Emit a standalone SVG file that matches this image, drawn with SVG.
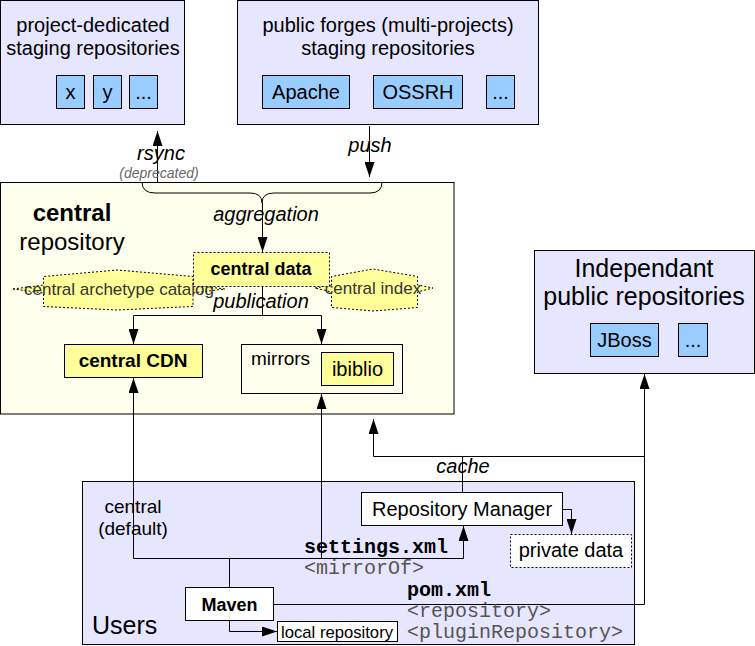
<svg xmlns="http://www.w3.org/2000/svg" width="755" height="646" viewBox="0 0 755 646">
<defs>
<marker id="arr" viewBox="0 0 15 10" refX="15" refY="5" markerWidth="15" markerHeight="10" markerUnits="userSpaceOnUse" orient="auto">
<path d="M0,0 L15,5 L0,10 z" fill="#000"/>
</marker>
<style>
text{font-family:"Liberation Sans",Arial,sans-serif;fill:#000}
.c{text-anchor:middle}
.t20{font-size:20px}
.it{font-style:italic;font-size:20px}
.b{font-weight:bold}
.mono{font-family:"Liberation Mono","Courier New",monospace;font-size:20px}
.monog{font-family:"Liberation Mono","Courier New",monospace;font-size:20px;fill:#555}
.lav{fill:#e6e6ff;stroke:#000;stroke-width:1}
.blue{fill:#99ccff;stroke:#000;stroke-width:1}
.cream{fill:#ffffee;stroke:#000;stroke-width:1}
.yel{fill:#ffff99;stroke:#000;stroke-width:1}
.yeld{fill:#ffff99;stroke:#000;stroke-width:1;stroke-dasharray:2,2}
.wh{fill:#fff;stroke:#000;stroke-width:1}
.whd{fill:#fff;stroke:#000;stroke-width:1;stroke-dasharray:2,2}
.ln{fill:none;stroke:#000;stroke-width:1}
.ar{fill:none;stroke:#000;stroke-width:1;marker-end:url(#arr)}
</style>
</defs>

<g id="project-staging">
<rect class="lav" x="0.5" y="0.5" width="184" height="124"/>
<text class="t20 c" x="93" y="32">project-dedicated</text>
<text class="t20 c" x="93" y="55">staging repositories</text>
<rect class="blue" x="56.5" y="75.5" width="28" height="33"/>
<text class="t20 c" x="70.5" y="99">x</text>
<rect class="blue" x="93.5" y="75.5" width="28" height="33"/>
<text class="t20 c" x="107.5" y="99">y</text>
<rect class="blue" x="129.5" y="75.5" width="28" height="33"/>
<text class="t20 c" x="143.5" y="99">...</text>
</g>

<g id="public-forges">
<rect class="lav" x="237.5" y="0.5" width="301" height="124"/>
<text class="t20 c" x="388" y="32">public forges (multi-projects)</text>
<text class="t20 c" x="388" y="55">staging repositories</text>
<rect class="blue" x="262.5" y="75.5" width="87" height="33"/>
<text class="t20 c" x="306" y="99">Apache</text>
<rect class="blue" x="373.5" y="75.5" width="89" height="33"/>
<text class="t20 c" x="418" y="99">OSSRH</text>
<rect class="blue" x="486.5" y="75.5" width="28" height="33"/>
<text class="t20 c" x="500.5" y="99">...</text>
</g>

<g id="central-repository">
<rect class="cream" x="0.5" y="182.5" width="453.5" height="231.5"/>
<text class="c b" style="font-size:24px" x="72" y="221">central</text>
<text class="c" style="font-size:24px" x="72" y="250">repository</text>
</g>

<g id="archetype-catalog">
<polygon class="yeld" points="13,289 43.5,285 43.5,276.5 117,270 193,276.5 193,285 225,289 193,293 193,306.5 117,310 43.5,306.5 43.5,293"/>
<text class="c" style="font-size:17px;fill:#333" x="119" y="295">central archetype catalog</text>
</g>

<g id="central-index">
<polygon class="yeld" points="315,288 331.5,285 331.5,276.5 373,269 417.5,276.5 417.5,285 433,288 417.5,292 417.5,307.5 373,311 331.5,307.5 331.5,292"/>
<text class="c" style="font-size:17px;fill:#333" x="373" y="294">central index</text>
</g>

<g id="central-data">
<rect class="yeld" x="193.5" y="252.5" width="136" height="34"/>
<text class="c b" style="font-size:18px" x="261" y="275">central data</text>
</g>

<g id="central-cdn">
<rect class="yel" x="64.5" y="344.5" width="138" height="33"/>
<text class="c b" style="font-size:19px" x="133" y="367">central CDN</text>
</g>

<g id="mirrors">
<rect class="cream" x="241.5" y="344.5" width="161" height="49"/>
<text style="font-size:19px" x="251" y="365">mirrors</text>
<rect class="yel" x="321.5" y="352.5" width="72" height="33"/>
<text class="t20 c" x="357.5" y="376">ibiblio</text>
</g>

<g id="independant">
<rect class="lav" x="534.5" y="250.5" width="220" height="123"/>
<text class="c" style="font-size:25px" x="644" y="277">Independant</text>
<text class="c" style="font-size:25px" x="644" y="305">public repositories</text>
<rect class="blue" x="590.5" y="323.5" width="68" height="33"/>
<text class="t20 c" x="624.5" y="347">JBoss</text>
<rect class="blue" x="678.5" y="323.5" width="29" height="33"/>
<text class="t20 c" x="693" y="347">...</text>
</g>

<g id="users">
<rect class="lav" x="82.5" y="481.5" width="552" height="163"/>
<text class="c" style="font-size:19px" x="133" y="513">central</text>
<text class="c" style="font-size:19px" x="133" y="535">(default)</text>
<text style="font-size:25px" x="92" y="634">Users</text>
</g>

<g id="connectors">
<path class="ln" d="M142,182 Q142,193 155,193 L250,193 Q262,193 262,203 Q262,193 274,193 L370,193 Q382,193 382,182"/>
<path class="ar" d="M157.5,182 L157.5,131"/>
<path class="ar" d="M369.5,126 L369.5,177"/>
<path class="ar" d="M262.5,203 L262.5,252"/>
<path class="ln" d="M262.5,287 L262.5,315.5 M133.5,315.5 L321.5,315.5"/>
<path class="ar" d="M133.5,315.5 L133.5,344"/>
<path class="ar" d="M321.5,315.5 L321.5,344"/>
<path class="ar" d="M133.5,558.5 L133.5,378"/>
<path class="ar" d="M321.5,558.5 L321.5,394"/>
<path class="ar" d="M133.5,558.5 L463.5,558.5 L463.5,526"/>
<path class="ln" d="M229.5,558.5 L229.5,587"/>
<path class="ar" d="M229.5,620 L229.5,631.5 L277,631.5"/>
<path class="ar" d="M273,604.5 L644.5,604.5 L644.5,374"/>
<path class="ln" d="M462.5,492 L462.5,456.5"/>
<path class="ar" d="M644.5,456.5 L373.5,456.5 L373.5,419"/>
<path class="ar" d="M562,509.5 L571.5,509.5 L571.5,534"/>
</g>

<g id="labels">
<text class="it c" x="161" y="160">rsync</text>
<text class="c" style="font-size:14px;font-style:italic;fill:#666" x="159" y="178">(deprecated)</text>
<text class="it c" x="370" y="152">push</text>
<text class="it c" x="266" y="221">aggregation</text>
<text class="it c" x="261" y="308">publication</text>
<text class="it c" x="463" y="473">cache</text>
</g>

<g id="repository-manager">
<rect class="wh" x="361.5" y="492.5" width="201" height="33"/>
<text class="t20 c" x="462" y="516">Repository Manager</text>
</g>

<g id="private-data">
<rect class="whd" x="510.5" y="534.5" width="121" height="33"/>
<text class="t20 c" x="571" y="557">private data</text>
</g>

<g id="maven">
<rect class="wh" x="185.5" y="587.5" width="88" height="33"/>
<text class="c b" style="font-size:18px" x="229.5" y="611">Maven</text>
</g>

<g id="local-repository">
<rect class="wh" x="277.5" y="621.5" width="120" height="20"/>
<text style="font-size:17px" x="281" y="638" textLength="112" lengthAdjust="spacingAndGlyphs">local repository</text>
</g>

<g id="config-labels">
<text class="mono b" x="304" y="553">settings.xml</text>
<text class="monog" x="304" y="574">&lt;mirrorOf&gt;</text>
<text class="mono b" x="407" y="596">pom.xml</text>
<text class="monog" x="407" y="617">&lt;repository&gt;</text>
<text class="monog" x="407" y="638">&lt;pluginRepository&gt;</text>
</g>
</svg>
